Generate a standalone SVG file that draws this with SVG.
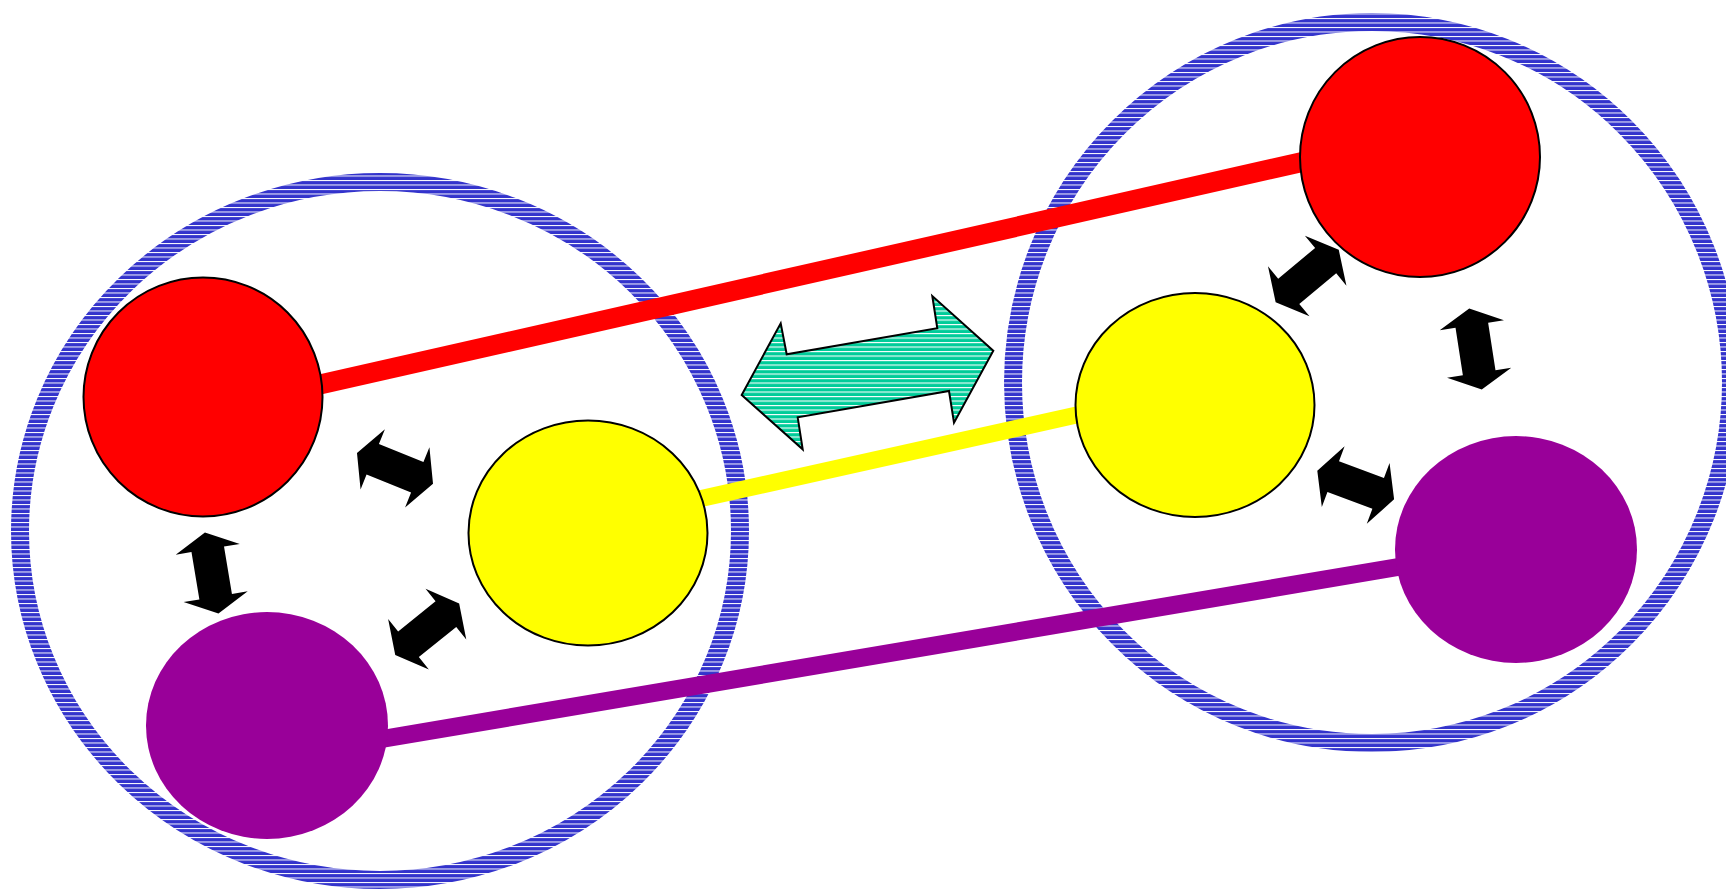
<svg xmlns="http://www.w3.org/2000/svg" width="1726" height="890" viewBox="0 0 1726 890">
<defs>
<pattern id="blueHatch" patternUnits="userSpaceOnUse" width="10" height="4.5">
<rect width="10" height="4.5" fill="#3333CC"/>
<rect y="0" width="10" height="1" fill="#FFFFFF"/>
</pattern>
<pattern id="tealHatch" patternUnits="userSpaceOnUse" width="10" height="4.5">
<rect width="10" height="4.5" fill="#00CC99"/>
<rect y="0" width="10" height="1.1" fill="#FFFFFF"/>
</pattern>
<path id="dblArrow" d="M -41 0 L -24 -32.5 L -24 -16.5 L 24 -16.5 L 24 -32.5 L 41 0 L 24 32.5 L 24 16.5 L -24 16.5 L -24 32.5 Z"/>
</defs>
<style>
.ring{fill:none;stroke:url(#blueHatch);stroke-width:18}
.red{fill:#FF0000;stroke:#000;stroke-width:2}
.yellow{fill:#FFFF00;stroke:#000;stroke-width:2}
.purple{fill:#990099;stroke:none}
.blk{fill:#000}
</style>
<rect width="1726" height="890" fill="#FFFFFF"/>
<g id="groupLeft"><ellipse class="ring" cx="380" cy="531" rx="360" ry="349"/></g>
<g id="groupRight"><ellipse class="ring" cx="1372" cy="382.5" rx="359" ry="360.5"/></g>
<g id="connectors">
<line x1="300" y1="389" x2="1320" y2="158" stroke="#FF0000" stroke-width="20"/>
<line x1="690" y1="501" x2="1090" y2="412" stroke="#FFFF00" stroke-width="17"/>
<line x1="370" y1="741" x2="1410" y2="565" stroke="#990099" stroke-width="18"/>
<path d="M 741.7 395 L 780.7 323.3 L 786.7 354.3 L 937.3 328.3 L 932.3 296 L 993.3 350.7 L 954 422.7 L 949 391 L 797.7 417.3 L 802.7 449.3 Z" fill="url(#tealHatch)" stroke="#000" stroke-width="2" stroke-linejoin="miter"/>
<use href="#dblArrow" class="blk" transform="translate(395 468.3) rotate(22)"/>
<use href="#dblArrow" class="blk" transform="translate(211.7 573) rotate(80.5)"/>
<use href="#dblArrow" class="blk" transform="translate(427.2 629.2) rotate(-38.8)"/>
<use href="#dblArrow" class="blk" transform="translate(1307.2 276) rotate(-39.7)"/>
<use href="#dblArrow" class="blk" transform="translate(1475.5 349) rotate(81.2)"/>
<use href="#dblArrow" class="blk" transform="translate(1355.7 485) rotate(20.5)"/>
</g>
<g id="redLeft"><circle class="red" cx="203" cy="397" r="119.5"/></g>
<g id="yellowLeft"><ellipse class="yellow" cx="588" cy="533" rx="119.5" ry="112.5"/></g>
<g id="purpleLeft"><ellipse class="purple" cx="267" cy="725.5" rx="121" ry="113.5"/></g>
<g id="redRight"><circle class="red" cx="1420" cy="157" r="120"/></g>
<g id="yellowRight"><ellipse class="yellow" cx="1195" cy="405" rx="119.5" ry="112"/></g>
<g id="purpleRight"><ellipse class="purple" cx="1516" cy="549.5" rx="121" ry="113.5"/></g>
</svg>
